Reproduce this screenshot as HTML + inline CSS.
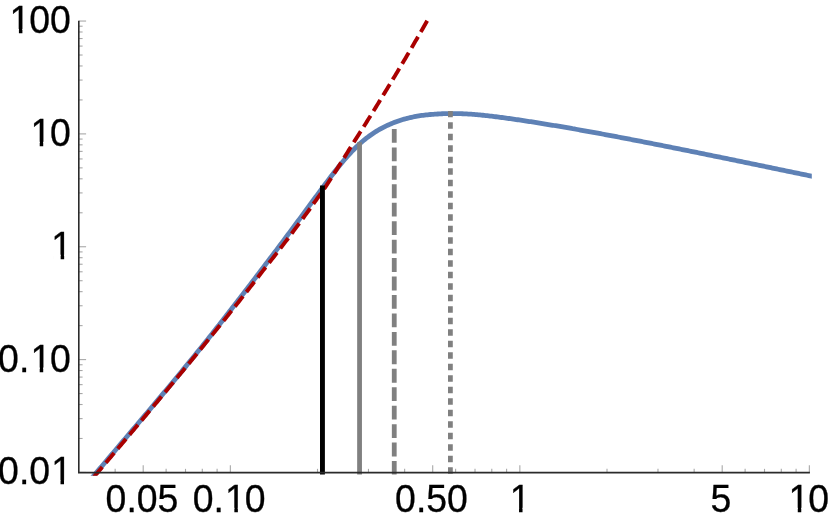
<!DOCTYPE html>
<html><head><meta charset="utf-8"><title>plot</title>
<style>
html,body{margin:0;padding:0;background:#fff;}
body{width:830px;height:521px;overflow:hidden;}
svg{display:block;}
#wrap{width:830px;height:521px;will-change:transform;}
text{font-family:"Liberation Sans",sans-serif;font-size:37.4px;fill:#000;stroke:#000;stroke-width:0.3px;}
</style></head><body>
<div id="wrap">
<svg width="830" height="521" viewBox="0 0 830 521">
<defs><clipPath id="c"><rect x="70" y="0" width="741.8" height="475.7"/></clipPath></defs>
<g clip-path="url(#c)" fill="none">
<path d="M90.00,480.21 L91.45,478.48 L92.91,476.76 L94.36,475.04 L95.82,473.31 L97.27,471.59 L98.73,469.87 L100.18,468.15 L101.64,466.43 L103.09,464.71 L104.55,462.99 L106.00,461.27 L107.46,459.55 L108.91,457.83 L110.37,456.11 L111.82,454.40 L113.28,452.68 L114.73,450.96 L116.19,449.25 L117.64,447.53 L119.10,445.81 L120.55,444.10 L122.01,442.38 L123.46,440.67 L124.92,438.95 L126.37,437.24 L127.83,435.52 L129.28,433.80 L130.74,432.09 L132.19,430.37 L133.65,428.65 L135.10,426.93 L136.56,425.22 L138.01,423.50 L139.47,421.78 L140.92,420.06 L142.38,418.34 L143.83,416.62 L145.29,414.90 L146.74,413.17 L148.20,411.45 L149.65,409.73 L151.11,408.00 L152.56,406.27 L154.02,404.55 L155.47,402.82 L156.93,401.09 L158.38,399.36 L159.84,397.62 L161.29,395.89 L162.75,394.15 L164.20,392.41 L165.66,390.68 L167.11,388.94 L168.57,387.19 L170.02,385.45 L171.47,383.70 L172.93,381.95 L174.38,380.20 L175.84,378.45 L177.29,376.69 L178.75,374.94 L180.20,373.18 L181.66,371.41 L183.11,369.65 L184.57,367.88 L186.02,366.11 L187.48,364.34 L188.93,362.56 L190.39,360.78 L191.84,358.99 L193.30,357.21 L194.75,355.42 L196.21,353.62 L197.66,351.82 L199.12,350.02 L200.57,348.22 L202.03,346.41 L203.48,344.59 L204.94,342.77 L206.39,340.95 L207.85,339.13 L209.30,337.30 L210.76,335.46 L212.21,333.63 L213.67,331.79 L215.12,329.94 L216.58,328.10 L218.03,326.25 L219.49,324.40 L220.94,322.54 L222.40,320.68 L223.85,318.82 L225.31,316.95 L226.76,315.08 L228.22,313.21 L229.67,311.34 L231.13,309.46 L232.58,307.58 L234.04,305.70 L235.49,303.82 L236.95,301.93 L238.40,300.04 L239.86,298.15 L241.31,296.26 L242.77,294.36 L244.22,292.46 L245.68,290.56 L247.13,288.66 L248.59,286.75 L250.04,284.85 L251.49,282.94 L252.95,281.03 L254.40,279.12 L255.86,277.21 L257.31,275.29 L258.77,273.38 L260.22,271.47 L261.68,269.55 L263.13,267.64 L264.59,265.72 L266.04,263.81 L267.50,261.89 L268.95,259.97 L270.41,258.05 L271.86,256.13 L273.32,254.20 L274.77,252.27 L276.23,250.35 L277.68,248.41 L279.14,246.48 L280.59,244.54 L282.05,242.60 L283.50,240.65 L284.96,238.71 L286.41,236.75 L287.87,234.80 L289.32,232.84 L290.78,230.88 L292.23,228.92 L293.69,226.95 L295.14,224.98 L296.60,223.01 L298.05,221.04 L299.51,219.06 L300.96,217.09 L302.42,215.11 L303.87,213.13 L305.33,211.15 L306.78,209.16 L308.24,207.18 L309.69,205.20 L311.15,203.22 L312.60,201.24 L314.06,199.26 L315.51,197.29 L316.97,195.31 L318.42,193.34 L319.88,191.37 L321.33,189.40 L322.79,187.44 L324.24,185.48 L325.70,183.53 L327.15,181.59 L328.61,179.66 L330.06,177.73 L331.52,175.83 L332.97,173.94 L334.42,172.06 L335.88,170.20 L337.33,168.37 L338.79,166.55 L340.24,164.76 L341.70,163.00 L343.15,161.26 L344.61,159.55 L346.06,157.87 L347.52,156.22 L348.97,154.61 L350.43,153.03 L351.88,151.48 L353.34,149.98 L354.79,148.51 L356.25,147.08 L357.70,145.69 L359.16,144.34 L360.61,143.02 L362.07,141.75 L363.52,140.52 L364.98,139.33 L366.43,138.17 L367.89,137.06 L369.34,135.98 L370.80,134.94 L372.25,133.94 L373.71,132.97 L375.16,132.04 L376.62,131.14 L378.07,130.27 L379.53,129.43 L380.98,128.62 L382.44,127.84 L383.89,127.09 L385.35,126.36 L386.80,125.66 L388.26,124.99 L389.71,124.34 L391.17,123.71 L392.62,123.11 L394.08,122.53 L395.53,121.97 L396.99,121.44 L398.44,120.93 L399.90,120.44 L401.35,119.98 L402.81,119.53 L404.26,119.11 L405.72,118.71 L407.17,118.32 L408.63,117.96 L410.08,117.62 L411.54,117.29 L412.99,116.99 L414.44,116.70 L415.90,116.42 L417.35,116.17 L418.81,115.93 L420.26,115.70 L421.72,115.49 L423.17,115.30 L424.63,115.12 L426.08,114.95 L427.54,114.79 L428.99,114.64 L430.45,114.51 L431.90,114.38 L433.36,114.27 L434.81,114.16 L436.27,114.07 L437.72,113.98 L439.18,113.90 L440.63,113.83 L442.09,113.76 L443.54,113.71 L445.00,113.66 L446.45,113.62 L447.91,113.59 L449.36,113.57 L450.82,113.55 L452.27,113.54 L453.73,113.54 L455.18,113.55 L456.64,113.57 L458.09,113.60 L459.55,113.63 L461.00,113.68 L462.46,113.73 L463.91,113.79 L465.37,113.87 L466.82,113.94 L468.28,114.03 L469.73,114.12 L471.19,114.22 L472.64,114.33 L474.10,114.44 L475.55,114.56 L477.01,114.69 L478.46,114.82 L479.92,114.95 L481.37,115.09 L482.83,115.24 L484.28,115.39 L485.74,115.55 L487.19,115.71 L488.65,115.87 L490.10,116.04 L491.56,116.21 L493.01,116.39 L494.46,116.57 L495.92,116.75 L497.37,116.93 L498.83,117.12 L500.28,117.31 L501.74,117.50 L503.19,117.70 L504.65,117.89 L506.10,118.09 L507.56,118.29 L509.01,118.50 L510.47,118.70 L511.92,118.91 L513.38,119.12 L514.83,119.33 L516.29,119.54 L517.74,119.75 L519.20,119.97 L520.65,120.18 L522.11,120.40 L523.56,120.62 L525.02,120.84 L526.47,121.06 L527.93,121.29 L529.38,121.51 L530.84,121.74 L532.29,121.96 L533.75,122.19 L535.20,122.42 L536.66,122.65 L538.11,122.88 L539.57,123.12 L541.02,123.35 L542.48,123.59 L543.93,123.82 L545.39,124.06 L546.84,124.30 L548.30,124.54 L549.75,124.78 L551.21,125.02 L552.66,125.26 L554.12,125.50 L555.57,125.74 L557.03,125.99 L558.48,126.23 L559.94,126.48 L561.39,126.73 L562.85,126.98 L564.30,127.22 L565.76,127.47 L567.21,127.72 L568.67,127.98 L570.12,128.23 L571.58,128.48 L573.03,128.74 L574.48,128.99 L575.94,129.25 L577.39,129.50 L578.85,129.76 L580.30,130.02 L581.76,130.28 L583.21,130.54 L584.67,130.80 L586.12,131.06 L587.58,131.32 L589.03,131.59 L590.49,131.85 L591.94,132.11 L593.40,132.38 L594.85,132.65 L596.31,132.91 L597.76,133.18 L599.22,133.45 L600.67,133.72 L602.13,133.99 L603.58,134.26 L605.04,134.53 L606.49,134.80 L607.95,135.07 L609.40,135.34 L610.86,135.61 L612.31,135.89 L613.77,136.16 L615.22,136.44 L616.68,136.71 L618.13,136.99 L619.59,137.26 L621.04,137.54 L622.50,137.82 L623.95,138.10 L625.41,138.37 L626.86,138.65 L628.32,138.93 L629.77,139.21 L631.23,139.49 L632.68,139.77 L634.14,140.05 L635.59,140.33 L637.05,140.62 L638.50,140.90 L639.96,141.18 L641.41,141.46 L642.87,141.75 L644.32,142.03 L645.78,142.32 L647.23,142.60 L648.69,142.89 L650.14,143.17 L651.60,143.46 L653.05,143.74 L654.51,144.03 L655.96,144.32 L657.41,144.60 L658.87,144.89 L660.32,145.18 L661.78,145.47 L663.23,145.76 L664.69,146.04 L666.14,146.33 L667.60,146.62 L669.05,146.91 L670.51,147.20 L671.96,147.49 L673.42,147.78 L674.87,148.08 L676.33,148.37 L677.78,148.66 L679.24,148.95 L680.69,149.24 L682.15,149.54 L683.60,149.83 L685.06,150.12 L686.51,150.41 L687.97,150.71 L689.42,151.00 L690.88,151.30 L692.33,151.59 L693.79,151.88 L695.24,152.18 L696.70,152.47 L698.15,152.77 L699.61,153.06 L701.06,153.36 L702.52,153.66 L703.97,153.95 L705.43,154.25 L706.88,154.54 L708.34,154.84 L709.79,155.14 L711.25,155.43 L712.70,155.73 L714.16,156.03 L715.61,156.33 L717.07,156.62 L718.52,156.92 L719.98,157.22 L721.43,157.52 L722.89,157.82 L724.34,158.11 L725.80,158.41 L727.25,158.71 L728.71,159.01 L730.16,159.31 L731.62,159.61 L733.07,159.91 L734.53,160.21 L735.98,160.51 L737.43,160.81 L738.89,161.11 L740.34,161.41 L741.80,161.71 L743.25,162.01 L744.71,162.31 L746.16,162.61 L747.62,162.91 L749.07,163.21 L750.53,163.51 L751.98,163.81 L753.44,164.11 L754.89,164.41 L756.35,164.71 L757.80,165.01 L759.26,165.31 L760.71,165.62 L762.17,165.92 L763.62,166.22 L765.08,166.52 L766.53,166.82 L767.99,167.12 L769.44,167.42 L770.90,167.72 L772.35,168.03 L773.81,168.33 L775.26,168.63 L776.72,168.93 L778.17,169.23 L779.63,169.53 L781.08,169.84 L782.54,170.14 L783.99,170.44 L785.45,170.74 L786.90,171.04 L788.36,171.34 L789.81,171.65 L791.27,171.95 L792.72,172.25 L794.18,172.55 L795.63,172.85 L797.09,173.15 L798.54,173.45 L800.00,173.76 L801.45,174.06 L802.91,174.36 L804.36,174.66 L805.82,174.96 L807.27,175.26 L808.73,175.56 L810.18,175.87 L811.64,176.17 L813.09,176.47 L814.55,176.77 L816.00,177.07" stroke="#5e81b5" stroke-width="4.8" stroke-linejoin="round"/>
<path d="M93.01,477.99 L94.14,476.66 L95.27,475.33 L96.40,473.99 L97.52,472.66 L98.65,471.33 L99.78,470.00 L100.90,468.66 L102.03,467.33 L103.16,466.00 L104.28,464.66 L105.41,463.33 L106.54,462.00 L107.67,460.66 L108.79,459.33 L109.92,457.99 L111.05,456.66 L112.17,455.32 L113.30,453.99 L114.43,452.65 L115.56,451.32 L116.68,449.98 L117.81,448.64 L118.94,447.31 L120.06,445.97 L121.19,444.63 L122.32,443.29 L123.44,441.96 L124.57,440.62 L125.70,439.28 L126.83,437.94 L127.95,436.60 L129.08,435.26 L130.21,433.92 L131.33,432.58 L132.46,431.24 L133.59,429.90 L134.71,428.56 L135.84,427.21 L136.97,425.87 L138.10,424.53 L139.22,423.18 L140.35,421.84 L141.48,420.50 L142.60,419.15 L143.73,417.81 L144.86,416.46 L145.99,415.12 L147.11,413.77 L148.24,412.42 L149.37,411.08 L150.49,409.73 L151.62,408.38 L152.75,407.03 L153.87,405.68 L155.00,404.33 L156.13,402.98 L157.26,401.63 L158.38,400.28 L159.51,398.93 L160.64,397.57 L161.76,396.22 L162.89,394.87 L164.02,393.51 L165.15,392.16 L166.27,390.80 L167.40,389.44 L168.53,388.09 L169.65,386.73 L170.78,385.37 L171.91,384.01 L173.03,382.65 L174.16,381.29 L175.29,379.93 L176.42,378.57 L177.54,377.21 L178.67,375.85 L179.80,374.48 L180.92,373.12 L182.05,371.75 L183.18,370.39 L184.30,369.02 L185.43,367.65 L186.56,366.28 L187.69,364.91 L188.81,363.54 L189.94,362.17 L191.07,360.80 L192.19,359.43 L193.32,358.05 L194.45,356.68 L195.58,355.30 L196.70,353.93 L197.83,352.55 L198.96,351.17 L200.08,349.79 L201.21,348.41 L202.34,347.03 L203.46,345.65 L204.59,344.26 L205.72,342.88 L206.85,341.49 L207.97,340.10 L209.10,338.72 L210.23,337.33 L211.35,335.94 L212.48,334.55 L213.61,333.15 L214.73,331.76 L215.86,330.36 L216.99,328.97 L218.12,327.57 L219.24,326.17 L220.37,324.77 L221.50,323.37 L222.62,321.97 L223.75,320.56 L224.88,319.16 L226.01,317.75 L227.13,316.34 L228.26,314.93 L229.39,313.52 L230.51,312.10 L231.64,310.69 L232.77,309.27 L233.89,307.86 L235.02,306.44 L236.15,305.02 L237.28,303.59 L238.40,302.17 L239.53,300.74 L240.66,299.32 L241.78,297.89 L242.91,296.46 L244.04,295.03 L245.17,293.59 L246.29,292.15 L247.42,290.72 L248.55,289.28 L249.67,287.84 L250.80,286.39 L251.93,284.95 L253.05,283.50 L254.18,282.05 L255.31,280.60 L256.44,279.14 L257.56,277.69 L258.69,276.23 L259.82,274.77 L260.94,273.31 L262.07,271.85 L263.20,270.39 L264.32,268.96 L265.45,267.53 L266.58,266.10 L267.71,264.67 L268.83,263.23 L269.96,261.80 L271.09,260.36 L272.21,258.92 L273.34,257.47 L274.47,256.02 L275.60,254.58 L276.72,253.12 L277.85,251.67 L278.98,250.21 L280.10,248.76 L281.23,247.29 L282.36,245.83 L283.48,244.36 L284.61,242.89 L285.74,241.42 L286.87,239.95 L287.99,238.47 L289.12,236.97 L290.25,235.47 L291.37,233.97 L292.50,232.46 L293.63,230.95 L294.75,229.44 L295.88,227.92 L297.01,226.40 L298.14,224.88 L299.26,223.36 L300.39,221.83 L301.52,220.30 L302.64,218.77 L303.77,217.23 L304.90,215.69 L306.03,214.15 L307.15,212.60 L308.28,211.05 L309.41,209.49 L310.53,207.93 L311.66,206.36 L312.79,204.79 L313.91,203.22 L315.04,201.64 L316.17,200.06 L317.30,198.48 L318.42,196.89 L319.55,195.30 L320.68,193.71 L321.80,192.11 L322.93,190.51 L324.06,188.91 L325.19,187.30 L326.31,185.58 L327.44,183.86 L328.57,182.13 L329.69,180.40 L330.82,178.66 L331.95,176.93 L333.07,175.18 L334.20,173.43 L335.33,171.68 L336.46,169.93 L337.58,168.17 L338.71,166.41 L339.84,164.62 L340.96,162.82 L342.09,161.02 L343.22,159.22 L344.34,157.41 L345.47,155.60 L346.60,153.78 L347.73,151.96 L348.85,150.13 L349.98,148.30 L351.11,146.47 L352.23,144.64 L353.36,142.89 L354.49,141.14 L355.62,139.39 L356.74,137.63 L357.87,135.87 L359.00,134.10 L360.12,132.33 L361.25,130.56 L362.38,128.78 L363.50,127.00 L364.63,125.21 L365.76,123.42 L366.89,121.63 L368.01,119.83 L369.14,118.03 L370.27,116.22 L371.39,114.41 L372.52,112.59 L373.65,110.78 L374.77,108.95 L375.90,107.13 L377.03,105.30 L378.16,103.46 L379.28,101.63 L380.41,99.78 L381.54,97.94 L382.66,96.09 L383.79,94.23 L384.92,92.38 L386.05,90.51 L387.17,88.65 L388.30,86.80 L389.43,84.95 L390.55,83.10 L391.68,81.24 L392.81,79.37 L393.93,77.51 L395.06,75.64 L396.19,73.76 L397.32,71.89 L398.44,70.00 L399.57,68.12 L400.70,66.23 L401.82,64.34 L402.95,62.44 L404.08,60.54 L405.21,58.64 L406.33,56.73 L407.46,54.82 L408.59,52.91 L409.71,50.99 L410.84,49.07 L411.97,47.14 L413.09,45.21 L414.22,43.28 L415.35,41.35 L416.48,39.41 L417.60,37.47 L418.73,35.52 L419.86,33.58 L420.98,31.63 L422.11,29.67 L423.24,27.71 L424.36,25.75 L425.49,23.79 L426.62,21.82 L427.18,20.84" stroke="#aa0000" stroke-width="3.9" stroke-dasharray="12.9 5.54" stroke-dashoffset="-1.4"/>
<line x1="322.45" y1="185.6" x2="322.45" y2="474.6" stroke="#000" stroke-width="4.9"/>
<line x1="359.55" y1="142.3" x2="359.55" y2="474.6" stroke="#808080" stroke-width="4.8"/>
<line x1="394.25" y1="128.95" x2="394.25" y2="474.6" stroke="#808080" stroke-width="4.8" stroke-dasharray="13.85 4.6"/>
<line x1="450.4" y1="111.1" x2="450.4" y2="474.7" stroke="#808080" stroke-width="4.8" stroke-dasharray="6.5 5.0" stroke-dashoffset="0.45"/>
</g>
<g stroke="#a8a8a8" stroke-width="1.1" fill="none">
<line x1="143.20" y1="472.65" x2="143.20" y2="465.35"/>
<line x1="230.35" y1="472.65" x2="230.35" y2="465.35"/>
<line x1="432.70" y1="472.65" x2="432.70" y2="465.35"/>
<line x1="519.85" y1="472.65" x2="519.85" y2="465.35"/>
<line x1="722.20" y1="472.65" x2="722.20" y2="465.35"/>
<line x1="809.35" y1="472.65" x2="809.35" y2="465.35"/>
<line x1="115.15" y1="472.65" x2="115.15" y2="468.85"/>
<line x1="166.12" y1="472.65" x2="166.12" y2="468.85"/>
<line x1="185.51" y1="472.65" x2="185.51" y2="468.85"/>
<line x1="202.29" y1="472.65" x2="202.29" y2="468.85"/>
<line x1="217.10" y1="472.65" x2="217.10" y2="468.85"/>
<line x1="317.50" y1="472.65" x2="317.50" y2="468.85"/>
<line x1="368.48" y1="472.65" x2="368.48" y2="468.85"/>
<line x1="404.65" y1="472.65" x2="404.65" y2="468.85"/>
<line x1="455.62" y1="472.65" x2="455.62" y2="468.85"/>
<line x1="475.01" y1="472.65" x2="475.01" y2="468.85"/>
<line x1="491.79" y1="472.65" x2="491.79" y2="468.85"/>
<line x1="506.60" y1="472.65" x2="506.60" y2="468.85"/>
<line x1="607.00" y1="472.65" x2="607.00" y2="468.85"/>
<line x1="657.98" y1="472.65" x2="657.98" y2="468.85"/>
<line x1="694.15" y1="472.65" x2="694.15" y2="468.85"/>
<line x1="745.12" y1="472.65" x2="745.12" y2="468.85"/>
<line x1="764.51" y1="472.65" x2="764.51" y2="468.85"/>
<line x1="781.29" y1="472.65" x2="781.29" y2="468.85"/>
<line x1="796.10" y1="472.65" x2="796.10" y2="468.85"/>
<line x1="78.8" y1="472.45" x2="86.10" y2="472.45"/>
<line x1="78.8" y1="359.60" x2="86.10" y2="359.60"/>
<line x1="78.8" y1="246.75" x2="86.10" y2="246.75"/>
<line x1="78.8" y1="133.90" x2="86.10" y2="133.90"/>
<line x1="78.8" y1="21.05" x2="86.10" y2="21.05"/>
<line x1="78.8" y1="438.48" x2="82.60" y2="438.48"/>
<line x1="78.8" y1="418.61" x2="82.60" y2="418.61"/>
<line x1="78.8" y1="404.51" x2="82.60" y2="404.51"/>
<line x1="78.8" y1="393.57" x2="82.60" y2="393.57"/>
<line x1="78.8" y1="384.64" x2="82.60" y2="384.64"/>
<line x1="78.8" y1="377.08" x2="82.60" y2="377.08"/>
<line x1="78.8" y1="370.54" x2="82.60" y2="370.54"/>
<line x1="78.8" y1="364.76" x2="82.60" y2="364.76"/>
<line x1="78.8" y1="325.63" x2="82.60" y2="325.63"/>
<line x1="78.8" y1="305.76" x2="82.60" y2="305.76"/>
<line x1="78.8" y1="291.66" x2="82.60" y2="291.66"/>
<line x1="78.8" y1="280.72" x2="82.60" y2="280.72"/>
<line x1="78.8" y1="271.79" x2="82.60" y2="271.79"/>
<line x1="78.8" y1="264.23" x2="82.60" y2="264.23"/>
<line x1="78.8" y1="257.69" x2="82.60" y2="257.69"/>
<line x1="78.8" y1="251.91" x2="82.60" y2="251.91"/>
<line x1="78.8" y1="212.78" x2="82.60" y2="212.78"/>
<line x1="78.8" y1="192.91" x2="82.60" y2="192.91"/>
<line x1="78.8" y1="178.81" x2="82.60" y2="178.81"/>
<line x1="78.8" y1="167.87" x2="82.60" y2="167.87"/>
<line x1="78.8" y1="158.94" x2="82.60" y2="158.94"/>
<line x1="78.8" y1="151.38" x2="82.60" y2="151.38"/>
<line x1="78.8" y1="144.84" x2="82.60" y2="144.84"/>
<line x1="78.8" y1="139.06" x2="82.60" y2="139.06"/>
<line x1="78.8" y1="99.93" x2="82.60" y2="99.93"/>
<line x1="78.8" y1="80.06" x2="82.60" y2="80.06"/>
<line x1="78.8" y1="65.96" x2="82.60" y2="65.96"/>
<line x1="78.8" y1="55.02" x2="82.60" y2="55.02"/>
<line x1="78.8" y1="46.09" x2="82.60" y2="46.09"/>
<line x1="78.8" y1="38.53" x2="82.60" y2="38.53"/>
<line x1="78.8" y1="31.99" x2="82.60" y2="31.99"/>
<line x1="78.8" y1="26.21" x2="82.60" y2="26.21"/>
</g>
<g stroke="#2b2b2b" stroke-width="1.6" fill="none">
<path d="M78.8,20.7 L78.8,472.65 L809.9,472.65" stroke-linejoin="miter"/>
</g>
<g>
<text transform="translate(105.61,511.90) scale(1,1.032)">0.05</text>
<text transform="translate(192.75,511.90) scale(1,1.032)">0.<tspan dx="1.10">1</tspan><tspan dx="-1.10">0</tspan></text>
<text transform="translate(395.11,511.90) scale(1,1.032)">0.50</text>
<text transform="translate(509.72,511.90) scale(1,1.032)">1</text>
<text transform="translate(710.60,511.90) scale(1,1.032)">5</text>
<text transform="translate(787.35,511.90) scale(1,1.032)"><tspan dx="1.10">1</tspan><tspan dx="-1.10">0</tspan></text>
<text transform="translate(-1.89,484.45) scale(1,1.032)">0.0<tspan dx="1.10">1</tspan></text>
<text transform="translate(-1.89,371.60) scale(1,1.032)">0.<tspan dx="1.10">1</tspan><tspan dx="-1.10">0</tspan></text>
<text transform="translate(51.34,258.75) scale(1,1.032)">1</text>
<text transform="translate(29.30,145.90) scale(1,1.032)"><tspan dx="1.10">1</tspan><tspan dx="-1.10">0</tspan></text>
<text transform="translate(8.50,33.05) scale(1,1.032)"><tspan dx="1.10">1</tspan><tspan dx="-1.10">0</tspan>0</text>
</g>
<g fill="#fff">
<rect x="226.89" y="507.82" width="7.46" height="5.68"/>
<rect x="237.86" y="507.82" width="7.16" height="5.68"/>
<rect x="511.57" y="507.82" width="7.46" height="5.68"/>
<rect x="522.53" y="507.82" width="7.16" height="5.68"/>
<rect x="790.30" y="507.82" width="7.46" height="5.68"/>
<rect x="801.26" y="507.82" width="7.16" height="5.68"/>
<rect x="53.05" y="480.37" width="7.46" height="5.68"/>
<rect x="64.01" y="480.37" width="7.16" height="5.68"/>
<rect x="32.25" y="367.52" width="7.46" height="5.68"/>
<rect x="43.21" y="367.52" width="7.16" height="5.68"/>
<rect x="53.19" y="254.67" width="7.46" height="5.68"/>
<rect x="64.15" y="254.67" width="7.16" height="5.68"/>
<rect x="32.25" y="141.82" width="7.46" height="5.68"/>
<rect x="43.21" y="141.82" width="7.16" height="5.68"/>
<rect x="11.45" y="28.97" width="7.46" height="5.68"/>
<rect x="22.41" y="28.97" width="7.16" height="5.68"/>
</g>
</svg>
</div>
</body></html>
